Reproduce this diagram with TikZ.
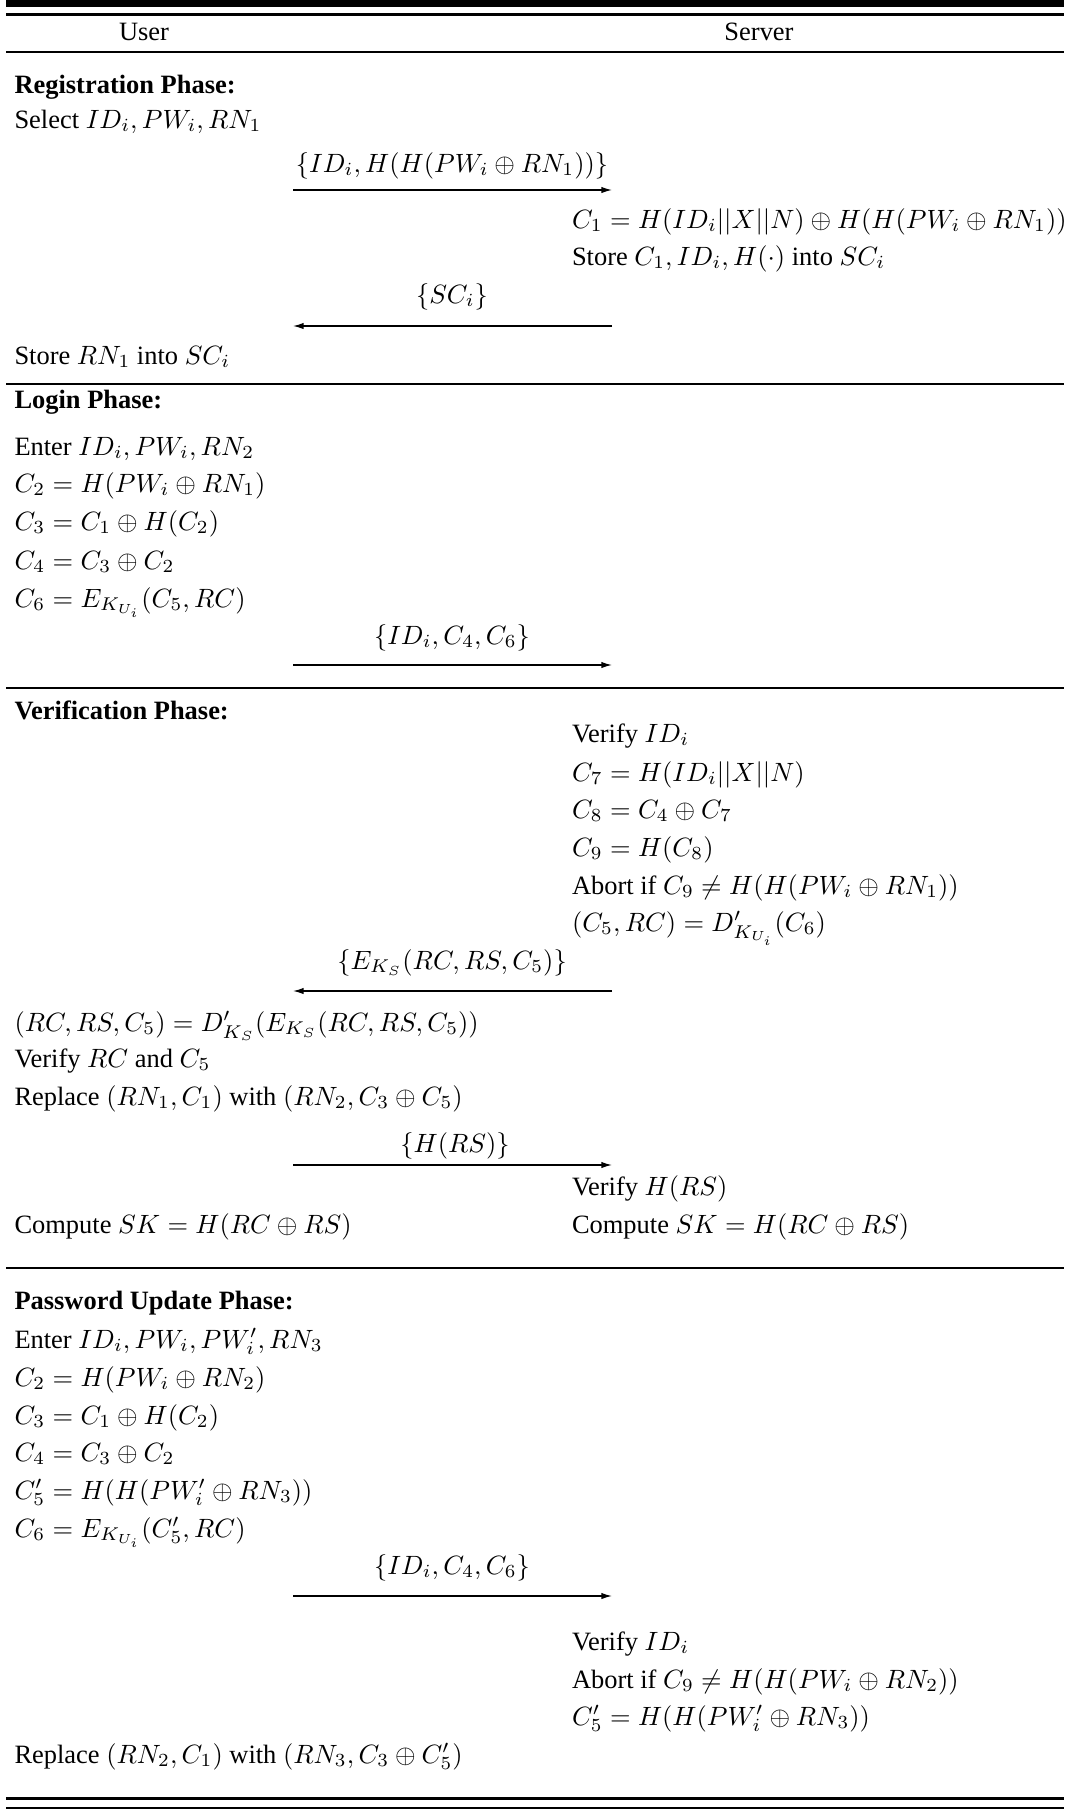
\documentclass[tikz,border=0pt]{standalone}
\usepackage[no-math]{fontspec}
\setmainfont{Liberation Serif}
\usetikzlibrary{arrows.meta}
\tikzset{
  lt/.style={anchor=base west, inner sep=0pt, outer sep=0pt},
  hd/.style={anchor=base, inner sep=0pt},
  msg/.style={anchor=base, inner sep=0pt},
  msgline/.style={line width=0.5pt, -{Latex[length=4pt,width=2.4pt]}},
  rulethin/.style={line width=0.75pt},
  rulemid/.style={line width=0.9pt},
}
\begin{document}
\begin{tikzpicture}[x=0.378pt,y=-0.378pt]
\useasboundingbox (0,0) rectangle (1075,1809);
% rules
\fill (6,0) rectangle (1064,7);
\draw[rulemid] (6,14.5) -- (1064,14.5);
\draw[rulemid] (6,52) -- (1064,52);
\draw[rulethin] (6,384) -- (1064,384);
\draw[rulethin] (6,688) -- (1064,688);
\draw[rulethin] (6,1268) -- (1064,1268);
\draw[line width=1.2pt] (6,1798.7) -- (1064,1798.7);
\draw[rulethin] (6,1807.7) -- (1064,1807.7);
% header
\node[hd] (huser) at (144,40) {User};
\node[hd] (hserver) at (759,40) {Server};
% Registration
\node[lt] (reg) at (14.5,93) {\textbf{Registration Phase:}};
\node[lt] (sel) at (14.5,128) {Select $ID_i, PW_i, RN_1$};
\node[msg] (m1) at (452,172) {$\{ID_i, H(H(PW_i \oplus RN_1))\}$};
\coordinate (m1a) at (293,190); \coordinate (m1b) at (612,190);
\draw[msgline] (m1a) -- (m1b);
\node[lt] (c1) at (572,228) {$C_1 = H(ID_i||X||N) \oplus H(H(PW_i \oplus RN_1))$};
\node[lt] (stc) at (572,265) {Store $C_1, ID_i, H(\cdot)$ into $SC_i$};
\node[msg] (m2) at (452,303) {$\{SC_i\}$};
\coordinate (m2a) at (612,326); \coordinate (m2b) at (293,326);
\draw[msgline] (m2a) -- (m2b);
\node[lt] (strn) at (14.5,364) {Store $RN_1$ into $SC_i$};
% Login
\node[lt] (log) at (14.5,408) {\textbf{Login Phase:}};
\node[lt] (ent) at (14.5,455) {Enter $ID_i, PW_i, RN_2$};
\node[lt] (lc2) at (14.5,492) {$C_2 = H(PW_i \oplus RN_1)$};
\node[lt] (lc3) at (14.5,530) {$C_3 = C_1 \oplus H(C_2)$};
\node[lt] (lc4) at (14.5,569) {$C_4 = C_3 \oplus C_2$};
\node[lt] (lc6) at (14.5,607) {$C_6 = E_{K_{U_i}}(C_5, RC)$};
\node[msg] (m3) at (452,644) {$\{ID_i, C_4, C_6\}$};
\coordinate (m3a) at (293,665); \coordinate (m3b) at (612,665);
\draw[msgline] (m3a) -- (m3b);
% Verification
\node[lt] (ver) at (14.5,719) {\textbf{Verification Phase:}};
\node[lt] (vid) at (572,742) {Verify $ID_i$};
\node[lt] (vc7) at (572,781) {$C_7 = H(ID_i||X||N)$};
\node[lt] (vc8) at (572,818) {$C_8 = C_4 \oplus C_7$};
\node[lt] (vc9) at (572,856) {$C_9 = H(C_8)$};
\node[lt] (vab) at (572,894) {Abort if $C_9 \neq H(H(PW_i \oplus RN_1))$};
\node[lt] (vd) at (572,931) {$(C_5, RC) = D'_{K_{U_i}}(C_6)$};
\node[msg] (m4) at (452,969) {$\{E_{K_S}(RC, RS, C_5)\}$};
\coordinate (m4a) at (612,991); \coordinate (m4b) at (293,991);
\draw[msgline] (m4a) -- (m4b);
\node[lt] (ud) at (14.5,1031) {$(RC, RS, C_5) = D'_{K_S}(E_{K_S}(RC, RS, C_5))$};
\node[lt] (urc) at (14.5,1067) {Verify $RC$ and $C_5$};
\node[lt] (urep) at (14.5,1105) {Replace $(RN_1, C_1)$ with $(RN_2, C_3 \oplus C_5)$};
\node[msg] (m5) at (455,1152) {$\{H(RS)\}$};
\coordinate (m5a) at (293,1165); \coordinate (m5b) at (612,1165);
\draw[msgline] (m5a) -- (m5b);
\node[lt] (vhrs) at (572,1195) {Verify $H(RS)$};
\node[lt] (usk) at (14.5,1233) {Compute $SK = H(RC \oplus RS)$};
\node[lt] (ssk) at (572,1233) {Compute $SK = H(RC \oplus RS)$};
% Password update
\node[lt] (pw) at (14.5,1309) {\textbf{Password Update Phase:}};
\node[lt] (pent) at (14.5,1348) {Enter $ID_i, PW_i, PW'_i, RN_3$};
\node[lt] (pc2) at (14.5,1386) {$C_2 = H(PW_i \oplus RN_2)$};
\node[lt] (pc3) at (14.5,1424) {$C_3 = C_1 \oplus H(C_2)$};
\node[lt] (pc4) at (14.5,1461) {$C_4 = C_3 \oplus C_2$};
\node[lt] (pc5) at (14.5,1499) {$C'_5 = H(H(PW'_i \oplus RN_3))$};
\node[lt] (pc6) at (14.5,1537) {$C_6 = E_{K_{U_i}}(C'_5, RC)$};
\node[msg] (m6) at (452,1574) {$\{ID_i, C_4, C_6\}$};
\coordinate (m6a) at (293,1596); \coordinate (m6b) at (612,1596);
\draw[msgline] (m6a) -- (m6b);
\node[lt] (pvid) at (572,1650) {Verify $ID_i$};
\node[lt] (pab) at (572,1688) {Abort if $C_9 \neq H(H(PW_i \oplus RN_2))$};
\node[lt] (pc5s) at (572,1725) {$C'_5 = H(H(PW'_i \oplus RN_3))$};
\node[lt] (prep) at (14.5,1763) {Replace $(RN_2, C_1)$ with $(RN_3, C_3 \oplus C'_5)$};
\end{tikzpicture}
\end{document}
